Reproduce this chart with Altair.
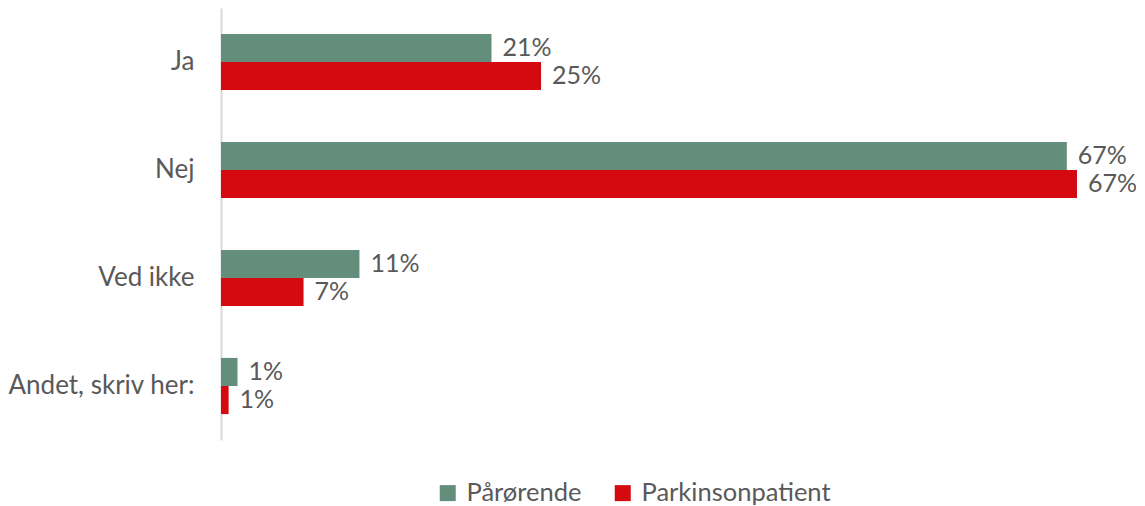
import altair as alt
import pandas as pd

categories = ["Ja", "Nej", "Ved ikke", "Andet, skriv her:"]
series = ["Pårørende", "Parkinsonpatient"]
paarorende = [0.213, 0.666, 0.109, 0.013]
patient = [0.252, 0.674, 0.065, 0.006]
colors = ["#638E7B", "#D40A10"]

rows = []
for i, c in enumerate(categories):
    rows.append({"cat": c, "serie": series[0], "val": paarorende[i]})
    rows.append({"cat": c, "serie": series[1], "val": patient[i]})
df = pd.DataFrame(rows)

FONT = "Lato"
TXT = "#595959"

y = alt.Y("cat:N", sort=categories, title=None,
          scale=alt.Scale(paddingInner=0.48, paddingOuter=0.24),
          axis=alt.Axis(ticks=False, domain=True, domainColor="#D9D9D9", domainWidth=2,
                        labelFontSize=26, labelFont=FONT, labelColor=TXT,
                        labelPadding=27, labelLimit=300))
x = alt.X("val:Q", title=None, scale=alt.Scale(domain=[0, 0.70], nice=False),
          axis=None)
yoff = alt.YOffset("serie:N", sort=series)
color = alt.Color("serie:N", sort=series,
                  scale=alt.Scale(domain=series, range=colors),
                  legend=alt.Legend(title=None, orient="none", direction="horizontal",
                                    legendX=214, legendY=472,
                                    symbolType="square", symbolSize=256,
                                    symbolStrokeWidth=0,
                                    labelFontSize=25.5, labelFont=FONT,
                                    labelColor=TXT, columnPadding=28,
                                    labelOffset=6, labelLimit=400))

bars = alt.Chart(df).mark_bar().encode(y=y, x=x, yOffset=yoff, color=color)
texts = alt.Chart(df).mark_text(align="left", baseline="middle", dx=11,
                                fontSize=25, font=FONT, color=TXT).encode(
    y=y, x=x, yOffset=yoff, text=alt.Text("val:Q", format=".0%"))

chart = (bars + texts).properties(
    width=889, height=432,
    autosize=alt.AutoSizeParams(type="none"),
    padding={"left": 213, "top": 0, "right": 26, "bottom": 70},
).configure_view(stroke=None)

chart.save("out.html", embed_options={"renderer": "svg", "actions": False})
